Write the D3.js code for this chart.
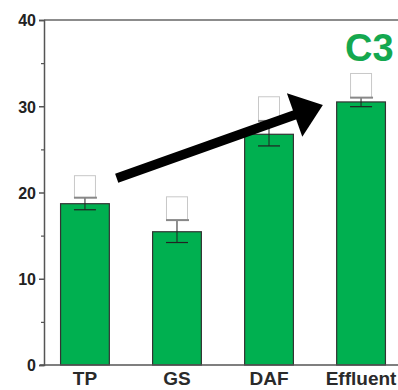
<!DOCTYPE html>
<html>
<head>
<meta charset="utf-8">
<script src="https://cdn.jsdelivr.net/npm/d3@7"></script>
<style>
  body { margin: 0; background: #fff; }
  svg { display: block; font-family: "Liberation Sans", Arial, sans-serif; }
</style>
</head>
<body>
<svg id="chart" width="398" height="390"></svg>
<script>
// data
var categories = ["TP", "GS", "DAF", "Effluent"];
var means = [18.7, 15.45, 26.75, 30.5];
var errLow = [18.0, 14.2, 25.4, 29.95];
var errHigh = [19.4, 16.8, 28.3, 31.0];
var boxTop = [21.95, 19.5, 31.1, 33.8];
var yTicks = [0, 10, 20, 30, 40];
var yMinor = [5, 15, 25, 35];
// arrow: [category, offset in steps from band start, value]
var arrowFrom = ["TP", 0.61, 21.65];
var arrowTo = ["DAF", 0.85, 30.15];

var svg = d3.select("#chart");
var width = 398, height = 390;

var x = d3.scaleBand()
    .domain(categories)
    .range([44, 402])
    .paddingInner(0.47)
    .paddingOuter(0.18);

var y = d3.scaleLinear()
    .domain([0, 40])
    .range([365, 20]);

var green = "#00b050";

// frame top line
svg.append("line")
    .attr("x1", 44).attr("x2", width)
    .attr("y1", y(40)).attr("y2", y(40))
    .style("stroke", "#666").style("stroke-width", 1.5);

// bars
svg.selectAll("rect.bar")
  .data(categories)
  .enter().append("rect")
    .attr("class", "bar")
    .attr("x", function(d) { return x(d); })
    .attr("width", x.bandwidth())
    .attr("y", function(d, i) { return y(means[i]); })
    .attr("height", function(d, i) { return y(0) - y(means[i]); })
    .style("fill", green)
    .style("stroke", "#333")
    .style("stroke-width", 1.2);

// boxes above the bars
var boxW = 21;
svg.selectAll("rect.box")
  .data(categories)
  .enter().append("rect")
    .attr("class", "box")
    .attr("x", function(d) { return x(d) + x.bandwidth() / 2 - boxW / 2; })
    .attr("width", boxW)
    .attr("y", function(d, i) { return y(boxTop[i]); })
    .attr("height", function(d, i) { return y(errHigh[i]) - y(boxTop[i]); })
    .style("fill", "#fff")
    .style("stroke", "#c8c8c8")
    .style("stroke-width", 1);

// error bars
var err = svg.selectAll("g.err")
  .data(categories)
  .enter().append("g")
    .attr("class", "err")
    .attr("transform", function(d) { return "translate(" + (x(d) + x.bandwidth() / 2) + ",0)"; });

err.append("line")
    .attr("y1", function(d, i) { return y(errLow[i]); })
    .attr("y2", function(d, i) { return y(errHigh[i]); })
    .style("stroke", "#222").style("stroke-width", 1);
err.append("line")
    .attr("x1", -11).attr("x2", 11)
    .attr("y1", function(d, i) { return y(errLow[i]); })
    .attr("y2", function(d, i) { return y(errLow[i]); })
    .style("stroke", "#222").style("stroke-width", 1.2);
err.append("line")
    .attr("x1", -11).attr("x2", 12)
    .attr("y1", function(d, i) { return y(errHigh[i]); })
    .attr("y2", function(d, i) { return y(errHigh[i]); })
    .style("stroke", "#888").style("stroke-width", 2);

// y axis
var yAxis = svg.append("g")
    .attr("transform", "translate(44,0)")
    .call(d3.axisLeft(y).tickValues(yTicks).tickSize(5).tickPadding(3).tickFormat(d3.format("d")));
yAxis.select(".domain").style("stroke", "#555").style("stroke-width", 1.5);
yAxis.selectAll(".tick line").style("stroke", "#555").style("stroke-width", 1.5);
yAxis.selectAll("text")
    .style("font-size", "16px").style("font-weight", "bold").style("fill", "#222")
    .attr("dy", "0.36em");

svg.append("g")
    .attr("transform", "translate(44,0)")
    .call(d3.axisLeft(y).tickValues(yMinor).tickSize(3).tickFormat(""))
    .call(function(g) { g.select(".domain").remove(); })
    .selectAll("line").style("stroke", "#555").style("stroke-width", 1.2);

// x axis
var xAxis = svg.append("g")
    .attr("transform", "translate(0," + y(0) + ")")
    .call(d3.axisBottom(x).tickSize(0).tickPadding(7));
xAxis.select(".domain").remove();
xAxis.selectAll("text")
    .style("font-size", "19px").style("font-weight", "bold").style("fill", "#2a2a2a");
svg.append("line")
    .attr("x1", 40).attr("x2", width)
    .attr("y1", y(0)).attr("y2", y(0))
    .style("stroke", "#555").style("stroke-width", 1.5);

// arrow
var ax1 = x(arrowFrom[0]) + arrowFrom[1] * x.step(), ay1 = y(arrowFrom[2]);
var ax2 = x(arrowTo[0]) + arrowTo[1] * x.step(), ay2 = y(arrowTo[2]);
var ang = Math.atan2(ay2 - ay1, ax2 - ax1);
var headLen = 30, headHalf = 23;
var bx = ax2 - headLen * Math.cos(ang), by = ay2 - headLen * Math.sin(ang);
svg.append("line")
    .attr("x1", ax1).attr("y1", ay1)
    .attr("x2", bx + 2 * Math.cos(ang)).attr("y2", by + 2 * Math.sin(ang))
    .style("stroke", "#000").style("stroke-width", 9.5);
svg.append("path")
    .attr("d", d3.line()([
      [ax2, ay2],
      [bx - headHalf * Math.sin(ang), by + headHalf * Math.cos(ang)],
      [bx + headHalf * Math.sin(ang), by - headHalf * Math.cos(ang)]
    ]) + "Z")
    .style("fill", "#000");

// panel label
svg.append("text")
    .attr("x", 345).attr("y", 61)
    .style("font-size", "38px").style("font-weight", "bold").style("fill", "#14a84f")
    .text("C3");
</script>
</body>
</html>
